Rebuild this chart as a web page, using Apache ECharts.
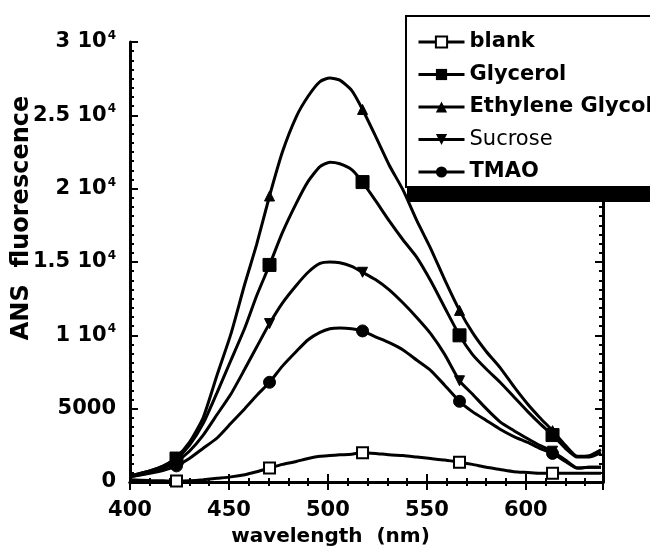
<!DOCTYPE html>
<html><head><meta charset="utf-8">
<script src="https://cdn.jsdelivr.net/npm/echarts@6/dist/echarts.min.js"></script>
<style>html,body{margin:0;padding:0;background:#fff}#c{width:650px;height:556px}</style>
</head><body><div id="c"></div>
<script>
const wavelengths = [400,410,417,423.5,430,437,444,451,458,464,470.5,477,484,490,496,501,506,512,517.5,524,531,538,545,552,559,566.5,573,580,587,594,601,607,613.5,620,626,632,638];
const markerWavelengths = [423.5,470.5,517.5,566.5,613.5];
const blank = [150,100,80,60,80,150,250,350,500,700,950,1200,1400,1600,1750,1800,1850,1900,2000,1950,1850,1800,1700,1600,1500,1350,1200,1000,850,700,650,600,600,600,600,600,600];
const glycerol = [400,750,1100,1600,2500,4000,6100,8300,10500,12700,14800,17000,19000,20500,21500,21800,21700,21300,20450,19200,17800,16500,15300,13700,11900,10000,8700,7700,6800,5800,4800,4000,3200,2300,1700,1700,2000];
const ethyleneGlycol = [400,750,1100,1700,2700,4400,7300,10100,13500,16200,19500,22500,24900,26300,27300,27550,27400,26700,25400,23600,21600,19900,17800,15900,13800,11700,10200,8900,7800,6500,5300,4400,3500,2500,1750,1800,2200];
const sucrose = [350,650,950,1400,2100,3200,4600,6000,7700,9200,10800,12200,13400,14300,14900,15000,14950,14700,14300,13800,13100,12200,11200,10100,8700,6900,6000,5000,4100,3500,2950,2500,2100,1500,950,1000,1000];
const tmao = [350,600,800,1100,1600,2300,3000,4000,5000,5900,6800,7900,8900,9700,10200,10450,10500,10450,10300,9900,9500,9000,8300,7600,6600,5500,4800,4200,3600,3100,2700,2300,1950,1400,950,1000,1000];
const seriesNames = ['blank','Glycerol','Ethylene Glycol','Sucrose','TMAO'];
const xTicks = [400,450,500,550,600];
const yTicks = [0,5000,10000,15000,20000,25000,30000];

function mk(vals){
  return wavelengths.map((w,i)=> markerWavelengths.indexOf(w)>=0 ? {value:[w,vals[i]]} : {value:[w,vals[i]], symbol:'none'});
}
const FONT = 'DejaVu Sans';
const base = {type:'line', smooth:0.2, showSymbol:true, lineStyle:{color:'#000', width:3}, emphasis:{disabled:true}, z:3};
const chart = echarts.init(document.getElementById('c'), null, {renderer:'canvas'});
const axisLine = {show:true, lineStyle:{color:'#000', width:3}};
const axisTick = {show:true, inside:true, length:8, lineStyle:{color:'#000', width:2}};
function minor(n){ return {show:true, splitNumber:n, length:4, lineStyle:{color:'#000', width:2}}; }
chart.setOption({
  backgroundColor:'#fff',
  animation:false,
  grid:{left:130, right:47, top:42, bottom:74},
  xAxis:[
    {type:'value', min:400, max:639, interval:50, position:'bottom',
      axisLine:axisLine, axisTick:axisTick, minorTick:minor(5), splitLine:{show:false},
      axisLabel:{margin:18, color:'#000', fontFamily:FONT, fontWeight:'bold', fontSize:21,
        formatter:v=> xTicks.indexOf(v)>=0 ? String(v) : ''},
      name:'wavelength  (nm)', nameLocation:'middle', nameGap:45,
      nameTextStyle:{color:'#000', fontFamily:FONT, fontWeight:'bold', fontSize:20, padding:[0,72,0,0]}},
    {type:'value', min:400, max:639, interval:50, position:'top',
      axisLine:axisLine, axisTick:axisTick, minorTick:minor(5), splitLine:{show:false},
      axisLabel:{show:false}}
  ],
  yAxis:[
    {type:'value', min:0, max:30000, interval:5000, position:'left',
      axisLine:axisLine, axisTick:axisTick, minorTick:minor(8), splitLine:{show:false},
      axisLabel:{margin:14, color:'#000', fontFamily:FONT, fontWeight:'bold', fontSize:21,
        formatter:v=>{
          if(yTicks.indexOf(v)<0) return '';
          if(v===0||v===5000) return String(v);
          return '{n|'+(v/10000)+' 10}{s|4}';
        },
        rich:{n:{fontFamily:FONT, fontWeight:'bold', fontSize:21, color:'#000'},
              s:{fontFamily:FONT, fontWeight:'bold', fontSize:12, color:'#000', padding:[0,0,12,1]}}
      }},
    {type:'value', min:0, max:30000, interval:5000, position:'right',
      axisLine:axisLine, axisTick:axisTick, minorTick:minor(8), splitLine:{show:false},
      axisLabel:{show:false}}
  ],
  legend:{
    orient:'vertical', left:405, top:15, z:12,
    padding:[16,12,4,12], itemWidth:46, itemHeight:14, itemGap:10.5,
    lineStyle:{width:3, color:'#000'},
    textStyle:{color:'#000', fontFamily:FONT, fontWeight:'bold', fontSize:21, lineHeight:22},
    data:[
      {name:seriesNames[0]},{name:seriesNames[1]},{name:seriesNames[2]},
      {name:seriesNames[3], textStyle:{fontWeight:'normal'}},{name:seriesNames[4]}
    ],
    selectedMode:false
  },
  graphic:[
    {type:'rect', z:10, shape:{x:407, y:28, width:260, height:174}, style:{fill:'#000'}},
    {type:'rect', z:11, shape:{x:406, y:16, width:260, height:171}, style:{fill:'#fff', stroke:'#000', lineWidth:2}},
    {type:'text', x:22, y:218, rotation:Math.PI/2, z:10,
      style:{text:'ANS  fluorescence', fill:'#000', font:'bold 24px "DejaVu Sans"', align:'center', verticalAlign:'middle'}}
  ],
  series:[
    Object.assign({}, base, {name:seriesNames[0], data:mk(blank), symbol:'rect', symbolSize:11,
      itemStyle:{color:'#fff', borderColor:'#000', borderWidth:2}}),
    Object.assign({}, base, {name:seriesNames[1], data:mk(glycerol), symbol:'rect', symbolSize:13,
      itemStyle:{color:'#000', borderColor:'#000'}}),
    Object.assign({}, base, {name:seriesNames[2], data:mk(ethyleneGlycol), symbol:'triangle', symbolSize:10,
      itemStyle:{color:'#000', borderColor:'#000'}}),
    Object.assign({}, base, {name:seriesNames[3], data:mk(sucrose), symbol:'triangle', symbolRotate:180, symbolSize:10,
      itemStyle:{color:'#000', borderColor:'#000'}}),
    Object.assign({}, base, {name:seriesNames[4], data:mk(tmao), symbol:'circle', symbolSize:12,
      itemStyle:{color:'#000', borderColor:'#000'}})
  ]
});
</script></body></html>
